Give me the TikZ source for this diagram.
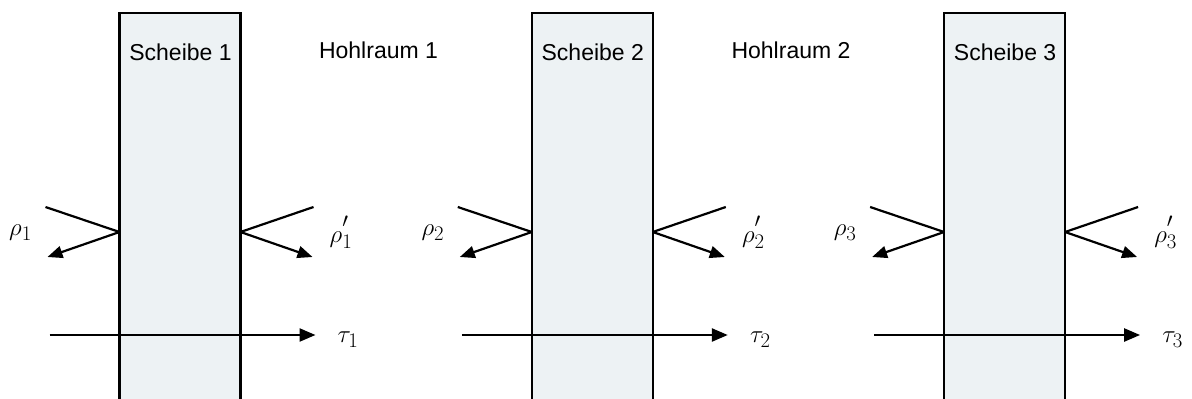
\documentclass[tikz,border=0pt]{standalone}
\usepackage{fontspec}
\setmainfont{Liberation Sans}
\usetikzlibrary{arrows.meta}
\definecolor{disc}{RGB}{237,242,244}
\tikzset{
  discbox/.style={fill=disc},
  discedge/.style={line width=2.4pt},
  ray/.style={line width=2.2pt},
  rayarrow/.style={line width=2.2pt,-{Triangle[length=15pt,width=12pt]}},
  transarrow/.style={line width=2.4pt,-{Triangle[length=16pt,width=13pt]}},
  lbl/.style={font=\fontsize{23}{27}\selectfont,anchor=base,inner sep=0pt},
  sym/.style={font=\fontsize{28}{32}\selectfont,inner sep=0pt}
}
\newcommand{\hiprime}{\raisebox{5pt}{$\scriptstyle\prime$}}
\begin{document}
\begin{tikzpicture}[x=1pt,y=-1pt]
\useasboundingbox (0,0) rectangle (1192,399);
\foreach \i/\L in {1/119.5,2/531.8,3/944.1}{
  \fill[discbox] (\L,13) rectangle (\L+121,402);
  \draw[discedge] (\L,402) -- (\L,13) -- (\L+121,13) -- (\L+121,402);
  \node[lbl] (s\i) at (\L+61,60) {Scheibe \i};
  \coordinate (hl\i) at (\L,232);
  \coordinate (hr\i) at (\L+121,232);
  \coordinate (inl\i) at (\L-74,207);
  \coordinate (outl\i) at (\L-72,257);
  \coordinate (inr\i) at (\L+194,207);
  \coordinate (outr\i) at (\L+193,257);
  \coordinate (ts\i) at (\L-70,335);
  \coordinate (te\i) at (\L+196,335);
  \node[sym,anchor=west] (tau\i) at (\L+218,340) {$\tau_{\i}$};
  \node[sym] (rho\i) at (\L-99,233) {$\rho_{\i}$};
  \node[sym,anchor=base west] (rhop\i) at (\L+210,242) {$\rho^{\hiprime}_{\i}$};
  \draw[ray] (inl\i) -- (hl\i);
  \draw[rayarrow] (hl\i) -- (outl\i);
  \draw[ray] (inr\i) -- (hr\i);
  \draw[rayarrow] (hr\i) -- (outr\i);
  \draw[transarrow] (ts\i) -- (te\i);
}
\node[lbl] (h1) at (378.5,58) {Hohlraum 1};
\node[lbl] (h2) at (791,58) {Hohlraum 2};
\end{tikzpicture}
\end{document}
